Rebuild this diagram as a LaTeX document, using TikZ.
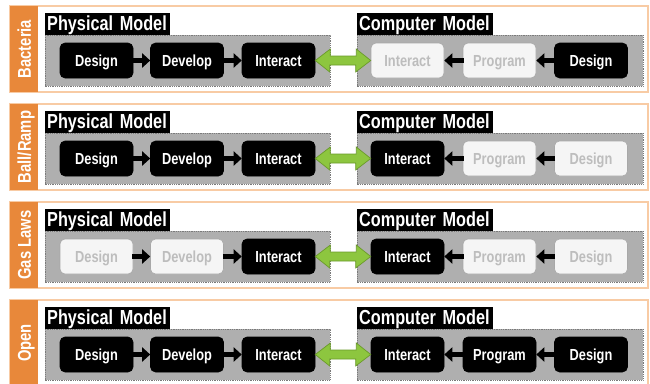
\documentclass[tikz,border=0pt]{standalone}
\usepackage{fontspec}
\setmainfont[FakeStretch=0.8]{Liberation Sans}
\usetikzlibrary{arrows.meta}
\definecolor{tabor}{HTML}{E8883A}
\definecolor{frameor}{HTML}{F8CBA4}
\definecolor{boxgrey}{HTML}{AFAFAF}
\definecolor{dotgrey}{HTML}{7A7A7A}
\definecolor{offfill}{HTML}{F5F5F5}
\definecolor{offdraw}{HTML}{A8A8A8}
\definecolor{offtext}{HTML}{BDBDBD}
\definecolor{gfill}{HTML}{8DC63F}
\definecolor{gdraw}{HTML}{6A9A2A}
\tikzset{
  outerframe/.style={draw=frameor, line width=1.2pt},
  tabfill/.style={fill=tabor},
  sidetext/.style={rotate=90, text=white, text height=13.6pt, text depth=0pt, inner sep=0pt, font=\fontsize{18.5}{20}\selectfont\bfseries},
  greybox/.style={fill=boxgrey, draw=dotgrey, densely dotted, line width=0.8pt},
  labelbox/.style={anchor=south west, fill=black, text=white, align=left, minimum height=22pt, inner xsep=2pt, inner ysep=3pt, text height=14.5pt, text depth=1pt, font=\fontsize{20.3}{22}\selectfont\bfseries},
  nodebase/.style={rectangle, rounded corners=5pt, minimum width=73pt, minimum height=35pt, inner sep=0pt, line width=0.6pt, text height=11.5pt, text depth=0pt, font=\fontsize{16}{18}\selectfont\bfseries},
  actnode/.style={nodebase, fill=black, draw=black, text=white},
  dimnode/.style={nodebase, fill=offfill, draw=offdraw, text=offtext},
  conn/.style={draw=black, line width=5pt, -{Triangle[width=14pt,length=8pt]}, shorten <=-1pt},
  garrow/.style={fill=gfill, draw=gdraw, line width=0.7pt, line join=miter}
}
\newcommand\mrow[9]{%
  \draw[outerframe] (10,#1) rectangle (648,#1+86);
  \fill[tabfill] (10,#1) rectangle (38,#1+86);
  \node[sidetext] (#2side) at (24,#1+43) {#3};
  \draw[greybox] (45,#1+29) rectangle (330,#1+80);
  \draw[greybox] (357,#1+29) rectangle (643,#1+80);
  \node[labelbox, text width=121pt] (#2pl) at (45,#1+29) {\mbox{Physical Model}};
  \node[labelbox, text width=132pt] (#2cl) at (357,#1+29) {\mbox{Computer Model}};
  \node[#4] (#2d1) at (96.5,#1+54.5) {Design};
  \node[#5] (#2d2) at (187,#1+54.5) {Develop};
  \node[#6] (#2d3) at (278.5,#1+54.5) {Interact};
  \node[#7] (#2c1) at (407.5,#1+54.5) {Interact};
  \node[#8] (#2c2) at (499.5,#1+54.5) {Program};
  \node[#9] (#2c3) at (591,#1+54.5) {Design};
  \draw[conn] (#2d1) -- (#2d2);
  \draw[conn] (#2d2) -- (#2d3);
  \draw[conn] (#2c3) -- (#2c2);
  \draw[conn] (#2c2) -- (#2c1);
  \draw[garrow] (#2d3.east) -- ++(15,-11.5) -- ++(0,7) -- ++(26,0) -- ++(0,-7) -- (#2c1.west) -- ++(-15,11.5) -- ++(0,-7) -- ++(-26,0) -- ++(0,7) -- cycle;
}
\begin{document}
\begin{tikzpicture}[x=1pt, y=-1pt]
  \fill[white] (0,0) rectangle (650,383);
  \useasboundingbox (0,0) rectangle (650,383);
  \mrow{6}{a}{Bacteria}{actnode}{actnode}{actnode}{dimnode}{dimnode}{actnode}
  \mrow{104}{b}{Ball/Ramp}{actnode}{actnode}{actnode}{actnode}{dimnode}{dimnode}
  \mrow{202}{c}{Gas Laws}{dimnode}{dimnode}{actnode}{actnode}{dimnode}{dimnode}
  \mrow{300}{d}{Open}{actnode}{actnode}{actnode}{actnode}{actnode}{actnode}
\end{tikzpicture}
\end{document}
